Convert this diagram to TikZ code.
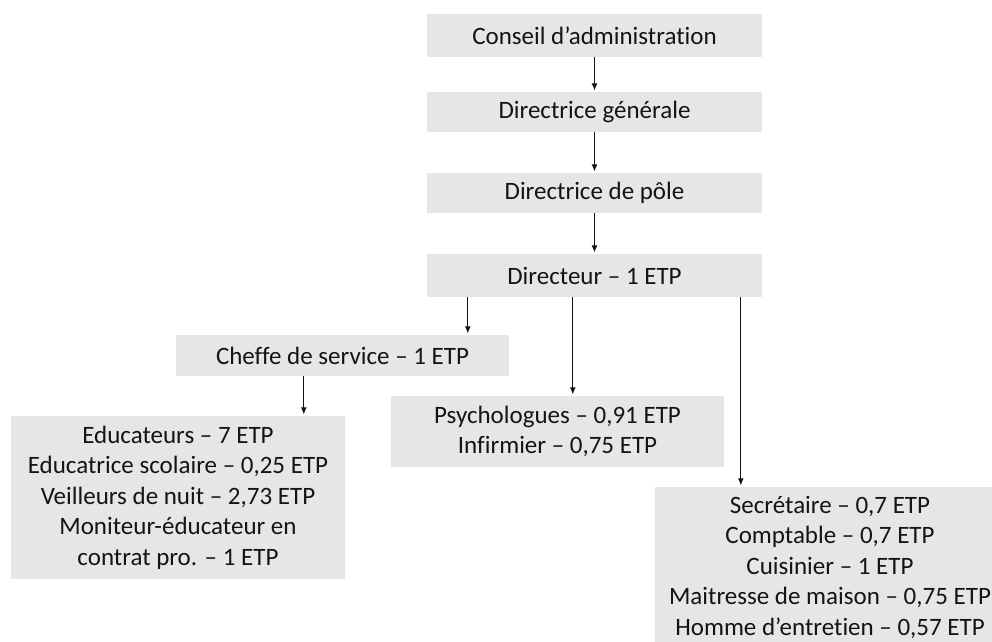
\documentclass[tikz,border=0pt]{standalone}
\usepackage{fontspec}
\setmainfont{Carlito}[Ligatures=NoCommon]
\usetikzlibrary{arrows.meta}
\definecolor{boxgrey}{RGB}{231,230,230}
\definecolor{inkgrey}{RGB}{20,20,20}
\tikzset{
  orgbox/.style={fill=boxgrey, inner sep=0pt, align=center, text=inkgrey,
    font=\fontsize{25pt}{30.5pt}\selectfont},
  link/.style={draw=inkgrey, line width=0.9pt,
    -{Latex[length=7pt,width=6pt]}, shorten >=1.5pt},
}
\begin{document}
\begin{tikzpicture}[x=1pt,y=-1pt]
  \useasboundingbox (0,0) rectangle (992,641);
  \begin{scope}
    \clip (0,0) rectangle (992,641);

    % chain of command
    \node[orgbox, minimum width=335pt, minimum height=43pt] (ca)  at (594.5,35.5) {Conseil d’administration};
    \node[orgbox, minimum width=335pt, minimum height=40pt] (dg)  at (594.5,112)  {Directrice générale};
    \node[orgbox, minimum width=335pt, minimum height=40pt] (dp)  at (594.5,193)  {Directrice de pôle};
    \node[orgbox, minimum width=335pt, minimum height=43pt] (dir) at (594.5,275.5) {Directeur – 1 ETP};

    % services
    \node[orgbox, minimum width=333pt, minimum height=41pt] (cs)  at (342.5,355.5) {Cheffe de service – 1 ETP};
    \node[orgbox, minimum width=334pt, minimum height=163pt] (edu) at (178,497.5)
      {Educateurs – 7 ETP\\Educatrice scolaire – 0,25 ETP\\Veilleurs de nuit – 2,73 ETP\\Moniteur-éducateur en\\contrat pro. – 1 ETP};
    \node[orgbox, minimum width=333pt, minimum height=71pt] (psy) at (557.5,431.5)
      {Psychologues – 0,91 ETP\\Infirmier – 0,75 ETP};
    \node[orgbox, minimum width=350pt, minimum height=160pt] (adm) at (830,567)
      {Secrétaire – 0,7 ETP\\Comptable – 0,7 ETP\\Cuisinier – 1 ETP\\Maitresse de maison – 0,75 ETP\\Homme d’entretien – 0,57 ETP};
  \end{scope}

  % links
  \draw[link] (ca) -- (dg);
  \draw[link] (dg) -- (dp);
  \draw[link] (dp) -- (dir);
  \draw[link] ([xshift=41pt]dir.south west) -- ([xshift=41pt]dir.south west |- cs.north);
  \draw[link] ([xshift=146pt]dir.south west) -- ([xshift=146pt]dir.south west |- psy.north);
  \draw[link] ([xshift=314pt]dir.south west) -- ([xshift=314pt]dir.south west |- adm.north);
  \draw[link] ([xshift=128pt]cs.south west) -- ([xshift=128pt]cs.south west |- edu.north);
\end{tikzpicture}
\end{document}
